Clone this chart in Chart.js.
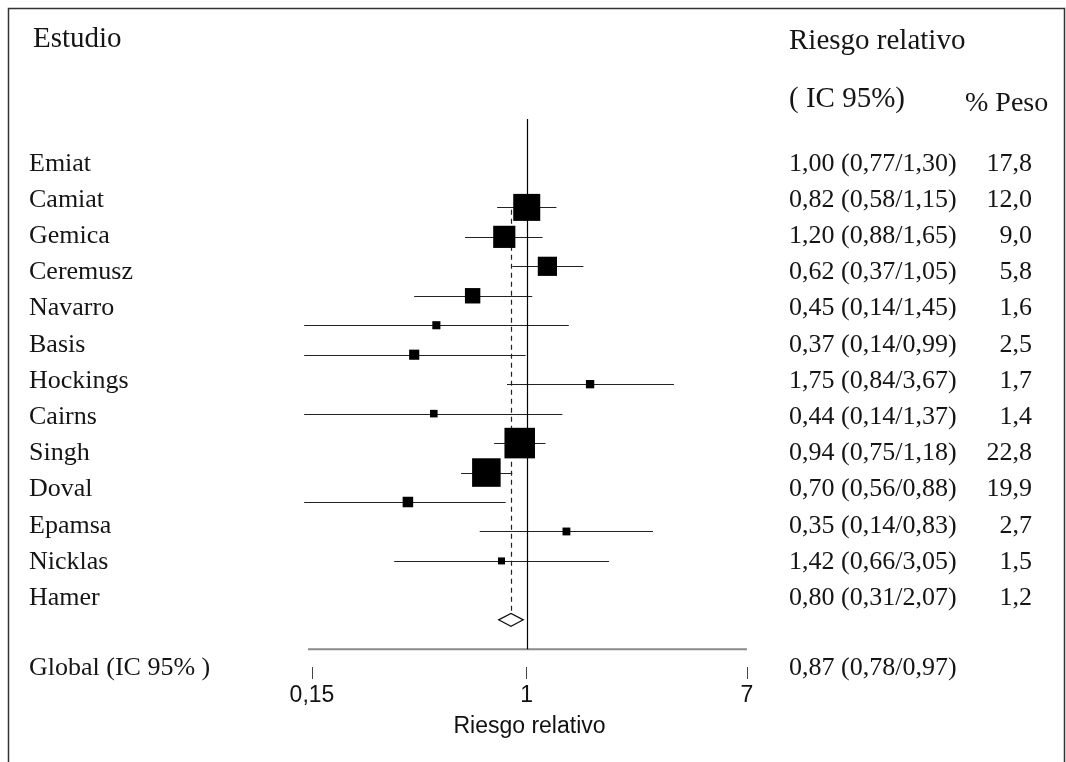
<!DOCTYPE html>
<html>
<head>
<meta charset="utf-8">
<script src="https://cdn.jsdelivr.net/npm/chart.js@4/dist/chart.umd.min.js"></script>
<style>
  html, body { margin: 0; padding: 0; background: #ffffff; }
  #wrap { position: relative; width: 1066px; height: 762px; }
  canvas { display: block; }
</style>
</head>
<body>
<div id="wrap"><canvas id="c" width="1066" height="762"></canvas></div>
<script>
// ---- data ----
const studies = ['Emiat','Camiat','Gemica','Ceremusz','Navarro','Basis','Hockings','Cairns','Singh','Doval','Epamsa','Nicklas','Hamer'];
const rr      = [1.00, 0.82, 1.20, 0.62, 0.45, 0.37, 1.75, 0.44, 0.94, 0.70, 0.35, 1.42, 0.80];
const ciLow   = [0.77, 0.58, 0.88, 0.37, 0.14, 0.14, 0.84, 0.14, 0.75, 0.56, 0.14, 0.66, 0.31];
const ciHigh  = [1.30, 1.15, 1.65, 1.05, 1.45, 0.99, 3.67, 1.37, 1.18, 0.88, 0.83, 3.05, 2.07];
const weights = [17.8, 12.0, 9.0, 5.8, 1.6, 2.5, 1.7, 1.4, 22.8, 19.9, 2.7, 1.5, 1.2];
const globalRR = [0.87, 0.78, 0.97]; // estimate, low, high
const tickValues = [0.15, 1, 7];
const tickLabels = ['0,15', '1', '7'];

// ---- helpers ----
const fmt2 = v => v.toFixed(2).replace('.', ',');
const fmt1 = v => v.toFixed(1).replace('.', ',');
const rows = studies.map((s, i) => i + 1);           // marker rows
const diamondRow = studies.length + 2;                // 15
const axisRow = studies.length + 3;                   // 16

const SERIF = '"Liberation Serif", "Times New Roman", serif';
const SANS = '"Liberation Sans", Arial, sans-serif';

const forestPlugin = {
  id: 'forest',
  beforeDatasetsDraw(chart) {
    const ctx = chart.ctx, xs = chart.scales.x, ys = chart.scales.y;
    ctx.save();
    // gray baseline
    ctx.strokeStyle = '#8a8a8a';
    ctx.lineWidth = 2;
    ctx.beginPath();
    ctx.moveTo(xs.left - 4, ys.getPixelForValue(axisRow));
    ctx.lineTo(xs.right, ys.getPixelForValue(axisRow));
    ctx.stroke();
    // confidence intervals
    ctx.strokeStyle = '#222';
    ctx.lineWidth = 1.2;
    rows.forEach((r, i) => {
      const y = Math.round(ys.getPixelForValue(r)) + 0.5;
      ctx.beginPath();
      ctx.moveTo(xs.getPixelForValue(ciLow[i]), y);
      ctx.lineTo(xs.getPixelForValue(ciHigh[i]), y);
      ctx.stroke();
    });
    // dashed line at pooled estimate
    const gx = Math.round(xs.getPixelForValue(globalRR[0])) + 0.5;
    ctx.setLineDash([5, 4]);
    ctx.beginPath();
    ctx.moveTo(gx, ys.getPixelForValue(1.08));
    ctx.lineTo(gx, ys.getPixelForValue(diamondRow));
    ctx.stroke();
    ctx.setLineDash([]);
    // diamond
    const dy = ys.getPixelForValue(diamondRow);
    const h = Math.abs(ys.getPixelForValue(diamondRow + 0.22) - dy);
    ctx.fillStyle = '#fff';
    ctx.strokeStyle = '#111';
    ctx.beginPath();
    ctx.moveTo(xs.getPixelForValue(globalRR[1]), dy);
    ctx.lineTo(xs.getPixelForValue(globalRR[0]), dy - h);
    ctx.lineTo(xs.getPixelForValue(globalRR[2]), dy);
    ctx.lineTo(xs.getPixelForValue(globalRR[0]), dy + h);
    ctx.closePath();
    ctx.fill();
    ctx.stroke();
    ctx.restore();
  },
  afterDatasetsDraw(chart) {
    const ctx = chart.ctx, xs = chart.scales.x, ys = chart.scales.y;
    ctx.save();
    // reference line at RR = 1
    const x1 = Math.round(xs.getPixelForValue(1)) + 0.5;
    ctx.strokeStyle = '#000';
    ctx.lineWidth = 1.2;
    ctx.beginPath();
    ctx.moveTo(x1, ys.getPixelForValue(ys.min));
    ctx.lineTo(x1, ys.getPixelForValue(axisRow));
    ctx.stroke();
    ctx.restore();
  },
  afterDraw(chart) {
    const ctx = chart.ctx;
    ctx.save();
    // frame
    ctx.strokeStyle = '#333';
    ctx.lineWidth = 1.5;
    ctx.beginPath();
    ctx.moveTo(8.5, 762);
    ctx.lineTo(8.5, 8.5);
    ctx.lineTo(1064.5, 8.5);
    ctx.lineTo(1064.5, 762);
    ctx.stroke();
    // texts
    ctx.fillStyle = '#151515';
    ctx.textBaseline = 'alphabetic';
    ctx.textAlign = 'left';
    ctx.font = '29px ' + SERIF;
    ctx.fillText('Estudio', 33, 47);
    ctx.fillText('Riesgo relativo', 789, 49);
    ctx.fillText('( IC 95%)', 789, 107);
    ctx.font = '28px ' + SERIF;
    ctx.fillText('% Peso', 965, 111);
    ctx.font = '26px ' + SERIF;
    const base = 170.5, step = 36.2;
    studies.forEach((s, i) => {
      const y = base + i * step;
      ctx.textAlign = 'left';
      ctx.fillText(s, 29, y);
      ctx.fillText(fmt2(rr[i]) + ' (' + fmt2(ciLow[i]) + '/' + fmt2(ciHigh[i]) + ')', 789, y);
      ctx.textAlign = 'right';
      ctx.fillText(fmt1(weights[i]), 1032, y);
    });
    ctx.textAlign = 'left';
    ctx.fillText('Global (IC 95% )', 29, 674.5);
    ctx.fillText(fmt2(globalRR[0]) + ' (' + fmt2(globalRR[1]) + '/' + fmt2(globalRR[2]) + ')', 789, 674.5);
    ctx.restore();
  }
};

new Chart(document.getElementById('c'), {
  type: 'scatter',
  data: {
    datasets: [{
      data: rows.map((r, i) => ({ x: rr[i], y: r })),
      pointStyle: 'rect',
      pointRadius: weights.map(w => 6.4 * Math.sqrt(w) / Math.SQRT2),
      pointHoverRadius: weights.map(w => 6.4 * Math.sqrt(w) / Math.SQRT2),
      backgroundColor: '#000',
      borderColor: '#000',
      borderWidth: 0
    }]
  },
  options: {
    responsive: false,
    animation: false,
    devicePixelRatio: 1,
    layout: { padding: { left: 312, right: 319, top: 119, bottom: 0 } },
    plugins: { legend: { display: false }, tooltip: { enabled: false }, title: { display: false } },
    scales: {
      x: {
        type: 'logarithmic',
        min: 0.15,
        max: 7,
        afterBuildTicks: s => { s.ticks = tickValues.map(v => ({ value: v })); },
        afterFit: s => { s.height = 95; },
        ticks: {
          autoSkip: false,
          maxRotation: 0,
          padding: 3,
          color: '#111',
          font: { family: SANS, size: 23 },
          callback: (v, i) => tickLabels[i]
        },
        grid: { display: true, drawOnChartArea: false, drawTicks: true, tickLength: 12, color: '#444', lineWidth: 1 },
        border: { display: false },
        title: {
          display: true,
          text: 'Riesgo relativo',
          color: '#111',
          font: { family: SANS, size: 23 },
          padding: { top: 0, bottom: 22 }
        }
      },
      y: {
        type: 'linear',
        min: -2,
        max: 16.6,
        reverse: true,
        display: false
      }
    }
  },
  plugins: [forestPlugin]
});
</script>
</body>
</html>
